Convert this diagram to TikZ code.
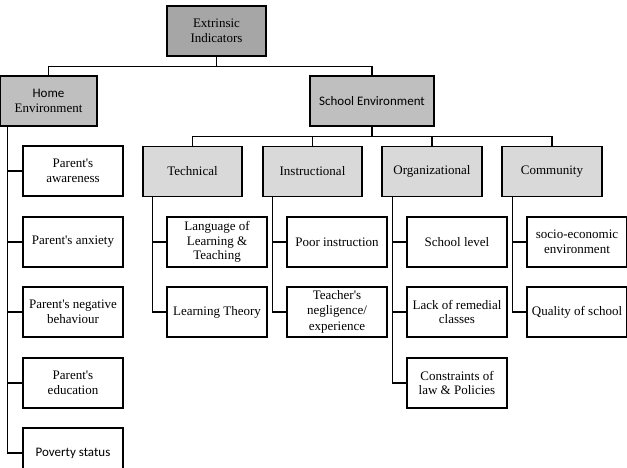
\documentclass[tikz,border=0pt]{standalone}
\usepackage{fontspec}
\setmainfont{Liberation Serif}
\newfontfamily\calib{Carlito}
\usepackage{tikz}
\usetikzlibrary{positioning,calc}
\definecolor{rootgray}{RGB}{166,166,166}
\definecolor{midgray}{RGB}{191,191,191}
\definecolor{catgray}{RGB}{217,217,217}
\newcommand{\apos}{\textquotesingle}

\begin{document}
\begin{tikzpicture}[
  x=1pt, y=-1pt,
  font=\fontsize{13}{14.5}\selectfont,
  box/.style={draw=black, line width=1.3pt, align=center, inner sep=2pt, minimum width=100pt, minimum height=50pt, fill=white},
  rootbox/.style={box, fill=rootgray},
  areabox/.style={box, fill=midgray},
  catbox/.style={box, fill=catgray},
  link/.style={draw=black, line width=1.3pt},
]
\useasboundingbox (0,0) rectangle (627,467);
% ---- root ----
\node[rootbox, minimum width=99pt] (ext) at (216.5,31) {\fontsize{13}{20}\selectfont Extrinsic\\ Indicators};
% ---- environments ----
\node[areabox, minimum width=97pt] (home) at (48.5,101) {{\calib Home}\\ Environment};
\node[areabox, minimum width=124pt] (school) at (372,101) {\calib School Environment};
% ---- school categories ----
\node[catbox, minimum width=99pt] (tech) at (192.5,171.5) {Technical};
\node[catbox, minimum width=99pt] (instr) at (312.5,171.5) {Instructional};
\node[catbox] (org) at (432,171.5) {Organizational};
\node[catbox] (comm) at (552,171.5) {Community};
% ---- home indicators ----
\node[box] (aware) at (73,171) {Parent\apos s\\ awareness};
\node[box] (anx) at (73,242) {Parent\apos s anxiety};
\node[box] (neg) at (73,312) {Parent\apos s negative\\ behaviour};
\node[box] (edu) at (73,383) {Parent\apos s\\ education};
\node[box] (pov) at (73,453) {\calib Poverty status};
% ---- technical ----
\node[box] (lang) at (217,242) {Language of\\ Learning \&\\ Teaching};
\node[box] (theory) at (217,312) {Learning Theory};
% ---- instructional ----
\node[box] (poor) at (337,242) {Poor instruction};
\node[box] (teach) at (337,312) {Teacher\apos s\\ negligence/\\[2pt] experience};
% ---- organizational ----
\node[box] (level) at (457,242) {School level};
\node[box] (remed) at (457,312) {Lack of remedial\\ classes};
\node[box] (law) at (457,383) {Constraints of\\ law \& Policies};
% ---- community ----
\node[box] (socio) at (577,242) {socio-economic\\ environment};
\node[box] (qual) at (577,312) {Quality of school};
% ---- tree links ----
\draw[link] (ext.south) -- ++(0,10) -| (home.north);
\draw[link] (ext.south) -- ++(0,10) -| (school.north);
\draw[link] (school.south) -- ++(0,10) -| (tech.north);
\draw[link] (school.south) -- ++(0,10) -| (instr.north);
\draw[link] (school.south) -- ++(0,10) -| (org.north);
\draw[link] (school.south) -- ++(0,10) -| (comm.north);
% ---- bus lines ----
\coordinate (hbus) at ($(home.south west)+(8,0)$);
\coordinate (tbus) at ($(tech.south west)+(10,0)$);
\coordinate (ibus) at ($(instr.south west)+(10,0)$);
\coordinate (obus) at ($(org.south west)+(11,0)$);
\coordinate (cbus) at ($(comm.south west)+(11,0)$);
\draw[link] (hbus) |- (aware.west);
\draw[link] (hbus) |- (anx.west);
\draw[link] (hbus) |- (neg.west);
\draw[link] (hbus) |- (edu.west);
\draw[link] (hbus) |- (pov.west);
\draw[link] (tbus) |- (lang.west);
\draw[link] (tbus) |- (theory.west);
\draw[link] (ibus) |- (poor.west);
\draw[link] (ibus) |- (teach.west);
\draw[link] (obus) |- (level.west);
\draw[link] (obus) |- (remed.west);
\draw[link] (obus) |- (law.west);
\draw[link] (cbus) |- (socio.west);
\draw[link] (cbus) |- (qual.west);
\end{tikzpicture}
\end{document}
